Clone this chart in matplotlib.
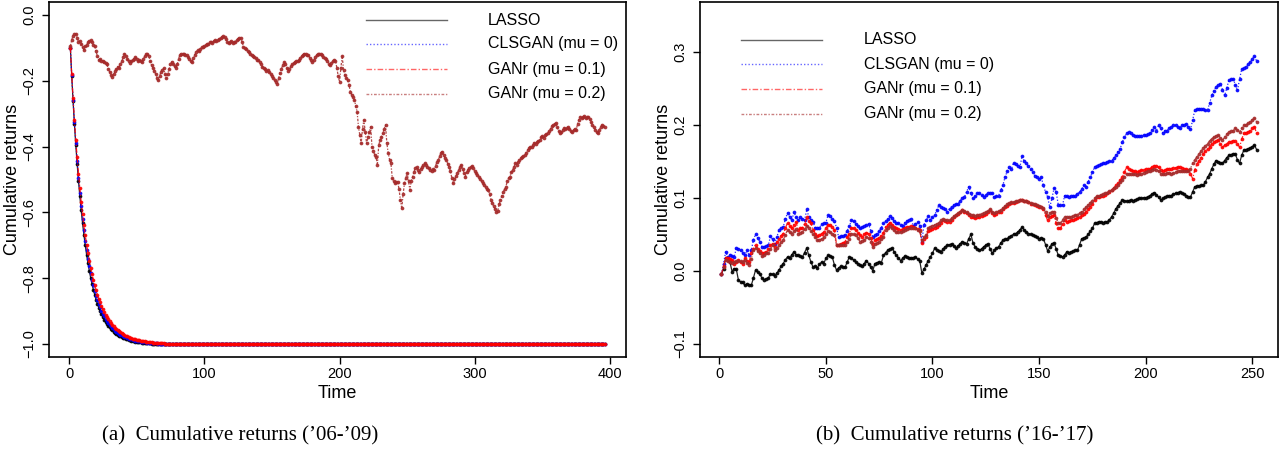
import matplotlib
matplotlib.use("Agg")
import matplotlib.pyplot as plt
from matplotlib.lines import Line2D

plt.rcParams['font.family'] = ['Liberation Sans', 'DejaVu Sans']

# ---------------- data: panel (a) '06-'09 ----------------
TIME_06 = list(range(1, 397))

LASSO_06_HEAD = [-0.100, -0.185, -0.262, -0.332, -0.395, -0.452, -0.504, -0.551, -0.594, -0.633,
                 -0.668, -0.700, -0.729, -0.755, -0.778, -0.799, -0.818, -0.836, -0.851, -0.866,
                 -0.878, -0.890, -0.900, -0.910, -0.918, -0.926, -0.933, -0.939, -0.945, -0.950,
                 -0.955, -0.959, -0.963, -0.966, -0.969, -0.972, -0.975, -0.977, -0.979, -0.981,
                 -0.983, -0.985, -0.986, -0.988, -0.989, -0.990, -0.991, -0.992, -0.993, -0.993,
                 -0.994, -0.995, -0.995, -0.996, -0.996, -0.997, -0.997, -0.997, -0.998, -0.998]
CLSGAN_06_HEAD = [-0.100, -0.183, -0.258, -0.326, -0.388, -0.443, -0.494, -0.540, -0.582, -0.620,
                  -0.655, -0.686, -0.715, -0.741, -0.764, -0.785, -0.805, -0.822, -0.838, -0.853,
                  -0.866, -0.878, -0.889, -0.899, -0.908, -0.916, -0.923, -0.930, -0.936, -0.942,
                  -0.947, -0.952, -0.956, -0.960, -0.963, -0.966, -0.969, -0.972, -0.974, -0.976,
                  -0.978, -0.980, -0.982, -0.984, -0.985, -0.986, -0.988, -0.989, -0.990, -0.991,
                  -0.992, -0.992, -0.993, -0.994, -0.994, -0.995, -0.995, -0.996, -0.996, -0.997,
                  -0.997, -0.997, -0.998, -0.998, -0.998]
GANR1_06_HEAD = [-0.100, -0.180, -0.253, -0.319, -0.379, -0.433, -0.482, -0.527, -0.568, -0.605,
                 -0.639, -0.670, -0.698, -0.724, -0.747, -0.768, -0.788, -0.806, -0.822, -0.837,
                 -0.850, -0.863, -0.874, -0.885, -0.894, -0.903, -0.911, -0.918, -0.925, -0.931,
                 -0.937, -0.942, -0.947, -0.951, -0.955, -0.959, -0.962, -0.965, -0.968, -0.971,
                 -0.973, -0.975, -0.977, -0.979, -0.981, -0.982, -0.984, -0.985, -0.986, -0.987,
                 -0.988, -0.989, -0.990, -0.991, -0.992, -0.992, -0.993, -0.994, -0.994, -0.995,
                 -0.995, -0.996, -0.996, -0.996, -0.997, -0.997, -0.997, -0.998, -0.998, -0.998]
FLAT_06 = -1.0
LASSO_06 = LASSO_06_HEAD + [FLAT_06] * (len(TIME_06) - len(LASSO_06_HEAD))
CLSGAN_06 = CLSGAN_06_HEAD + [FLAT_06] * (len(TIME_06) - len(CLSGAN_06_HEAD))
GANR1_06 = GANR1_06_HEAD + [FLAT_06] * (len(TIME_06) - len(GANR1_06_HEAD))

GANR2_06 = [
    -0.095, -0.075, -0.062, -0.058, -0.056, -0.068, -0.081, -0.079, -0.088, -0.097,
    -0.106, -0.095, -0.090, -0.083, -0.078, -0.076, -0.083, -0.091, -0.095, -0.110,
    -0.125, -0.137, -0.133, -0.141, -0.138, -0.144, -0.147, -0.150, -0.163, -0.172,
    -0.181, -0.187, -0.180, -0.171, -0.165, -0.157, -0.160, -0.150, -0.141, -0.128,
    -0.117, -0.125, -0.134, -0.140, -0.147, -0.141, -0.137, -0.132, -0.128, -0.132,
    -0.138, -0.135, -0.140, -0.142, -0.133, -0.125, -0.119, -0.117, -0.125, -0.138,
    -0.152, -0.160, -0.170, -0.178, -0.190, -0.198, -0.185, -0.172, -0.166, -0.162,
    -0.180, -0.192, -0.178, -0.164, -0.150, -0.142, -0.148, -0.155, -0.162, -0.150,
    -0.133, -0.120, -0.117, -0.119, -0.118, -0.121, -0.122, -0.127, -0.133, -0.139,
    -0.142, -0.131, -0.120, -0.112, -0.106, -0.110, -0.103, -0.098, -0.096, -0.094,
    -0.091, -0.087, -0.089, -0.083, -0.081, -0.084, -0.079, -0.076, -0.078, -0.076,
    -0.072, -0.069, -0.066, -0.064, -0.067, -0.073, -0.081, -0.086, -0.083, -0.079,
    -0.084, -0.082, -0.081, -0.076, -0.072, -0.069, -0.068, -0.083, -0.097, -0.101,
    -0.104, -0.108, -0.111, -0.117, -0.122, -0.125, -0.127, -0.131, -0.135, -0.137,
    -0.143, -0.150, -0.157, -0.162, -0.165, -0.170, -0.168, -0.174, -0.180, -0.185,
    -0.192, -0.198, -0.203, -0.208, -0.190, -0.177, -0.165, -0.152, -0.142, -0.150,
    -0.160, -0.170, -0.165, -0.155, -0.150, -0.147, -0.142, -0.138, -0.140, -0.137,
    -0.130, -0.124, -0.120, -0.117, -0.119, -0.121, -0.122, -0.130, -0.137, -0.142,
    -0.135, -0.128, -0.122, -0.119, -0.117, -0.117, -0.121, -0.126, -0.130, -0.132,
    -0.140, -0.148, -0.152, -0.146, -0.140, -0.137, -0.138, -0.160, -0.185, -0.203,
    -0.160, -0.125, -0.168, -0.182, -0.190, -0.198, -0.212, -0.233, -0.242, -0.250,
    -0.258, -0.276, -0.294, -0.340, -0.365, -0.390, -0.345, -0.319, -0.355, -0.390,
    -0.372, -0.355, -0.340, -0.400, -0.412, -0.425, -0.431, -0.456, -0.395, -0.380,
    -0.370, -0.360, -0.345, -0.334, -0.390, -0.420, -0.440, -0.451, -0.496, -0.505,
    -0.512, -0.509, -0.507, -0.530, -0.562, -0.588, -0.545, -0.512, -0.495, -0.481,
    -0.505, -0.532, -0.505, -0.491, -0.478, -0.465, -0.461, -0.470, -0.476, -0.468,
    -0.462, -0.455, -0.451, -0.456, -0.462, -0.466, -0.470, -0.474, -0.468, -0.471,
    -0.458, -0.447, -0.441, -0.430, -0.418, -0.415, -0.425, -0.436, -0.441, -0.452,
    -0.461, -0.475, -0.495, -0.512, -0.500, -0.490, -0.481, -0.472, -0.462, -0.456,
    -0.468, -0.480, -0.491, -0.478, -0.470, -0.466, -0.462, -0.459, -0.466, -0.475,
    -0.480, -0.486, -0.492, -0.498, -0.505, -0.512, -0.518, -0.523, -0.528, -0.532,
    -0.545, -0.562, -0.572, -0.582, -0.590, -0.598, -0.595, -0.575, -0.562, -0.550,
    -0.538, -0.530, -0.522, -0.505, -0.495, -0.491, -0.478, -0.470, -0.462, -0.450,
    -0.455, -0.446, -0.440, -0.436, -0.432, -0.430, -0.425, -0.418, -0.410, -0.405,
    -0.402, -0.400, -0.395, -0.388, -0.392, -0.385, -0.382, -0.380, -0.372, -0.368,
    -0.375, -0.366, -0.362, -0.359, -0.352, -0.345, -0.338, -0.335, -0.330, -0.329,
    -0.340, -0.352, -0.359, -0.355, -0.348, -0.342, -0.346, -0.342, -0.340, -0.345,
    -0.352, -0.355, -0.350, -0.346, -0.350, -0.330, -0.318, -0.309, -0.312, -0.310,
    -0.308, -0.312, -0.310, -0.309, -0.315, -0.325, -0.335, -0.340, -0.348, -0.355,
    -0.359, -0.350, -0.340, -0.334, -0.338, -0.340]

# ---------------- data: panel (b) '16-'17 ----------------
TIME_16 = list(range(1, 253))

LASSO_16 = [
    -0.005, 0.003, 0.017, 0.015, 0.012, -0.001, 0.003, 0.002, -0.013, -0.015,
    -0.016, -0.020, -0.018, -0.019, -0.020, -0.010, 0.001, -0.002, -0.004, -0.010,
    -0.012, -0.011, -0.010, -0.004, -0.005, -0.007, -0.003, 0.001, 0.006, 0.010,
    0.015, 0.019, 0.017, 0.022, 0.026, 0.022, 0.021, 0.020, 0.019, 0.025,
    0.031, 0.021, 0.012, 0.005, 0.006, 0.004, 0.009, 0.012, 0.010, 0.017,
    0.021, 0.020, 0.019, 0.008, 0.001, 0.004, 0.006, 0.005, 0.005, 0.012,
    0.019, 0.017, 0.015, 0.012, 0.010, 0.008, 0.006, 0.010, 0.014, 0.010,
    0.005, 0.000, 0.010, 0.011, 0.012, 0.011, 0.021, 0.025, 0.028, 0.030,
    0.031, 0.026, 0.021, 0.018, 0.014, 0.017, 0.020, 0.019, 0.018, 0.017,
    0.018, 0.019, 0.016, 0.014, -0.003, 0.002, 0.008, 0.014, 0.019, 0.024,
    0.031, 0.029, 0.027, 0.026, 0.030, 0.033, 0.035, 0.036, 0.037, 0.034,
    0.031, 0.034, 0.037, 0.040, 0.038, 0.037, 0.044, 0.050, 0.038, 0.033,
    0.030, 0.028, 0.030, 0.033, 0.035, 0.037, 0.030, 0.024, 0.028, 0.031,
    0.033, 0.038, 0.042, 0.043, 0.044, 0.046, 0.048, 0.050, 0.051, 0.053,
    0.056, 0.060, 0.056, 0.053, 0.051, 0.050, 0.049, 0.048, 0.046, 0.044,
    0.045, 0.044, 0.036, 0.027, 0.032, 0.037, 0.038, 0.030, 0.021, 0.020,
    0.019, 0.022, 0.026, 0.025, 0.026, 0.027, 0.028, 0.028, 0.036, 0.044,
    0.045, 0.046, 0.050, 0.054, 0.058, 0.065, 0.066, 0.067, 0.067, 0.066,
    0.067, 0.067, 0.070, 0.074, 0.079, 0.085, 0.089, 0.093, 0.097, 0.096,
    0.095, 0.096, 0.097, 0.096, 0.097, 0.098, 0.099, 0.099, 0.100, 0.100,
    0.101, 0.103, 0.105, 0.107, 0.104, 0.101, 0.097, 0.099, 0.101, 0.102,
    0.103, 0.103, 0.105, 0.106, 0.107, 0.108, 0.106, 0.105, 0.103, 0.101,
    0.101, 0.108, 0.115, 0.116, 0.116, 0.117, 0.117, 0.122, 0.128, 0.133,
    0.140, 0.146, 0.151, 0.149, 0.148, 0.147, 0.151, 0.155, 0.158, 0.159,
    0.160, 0.160, 0.152, 0.147, 0.158, 0.165, 0.166, 0.167, 0.168, 0.170,
    0.172, 0.166]

CLSGAN_16 = [
    -0.005, 0.010, 0.026, 0.019, 0.022, 0.020, 0.019, 0.031, 0.030, 0.028,
    0.024, 0.021, 0.028, 0.021, 0.028, 0.042, 0.050, 0.045, 0.040, 0.033,
    0.033, 0.034, 0.035, 0.047, 0.043, 0.037, 0.046, 0.056, 0.058, 0.060,
    0.071, 0.079, 0.074, 0.069, 0.080, 0.074, 0.069, 0.073, 0.071, 0.069,
    0.084, 0.074, 0.070, 0.067, 0.059, 0.059, 0.059, 0.064, 0.065, 0.066,
    0.076, 0.075, 0.071, 0.068, 0.059, 0.046, 0.047, 0.048, 0.049, 0.055,
    0.061, 0.069, 0.068, 0.064, 0.061, 0.058, 0.060, 0.061, 0.063, 0.064,
    0.055, 0.046, 0.049, 0.051, 0.055, 0.059, 0.065, 0.068, 0.071, 0.075,
    0.072, 0.068, 0.066, 0.065, 0.063, 0.061, 0.066, 0.068, 0.070, 0.071,
    0.061, 0.064, 0.067, 0.062, 0.040, 0.063, 0.069, 0.075, 0.070, 0.073,
    0.076, 0.083, 0.090, 0.088, 0.086, 0.084, 0.081, 0.085, 0.088, 0.090,
    0.091, 0.092, 0.096, 0.099, 0.101, 0.108, 0.115, 0.107, 0.099, 0.102,
    0.106, 0.106, 0.104, 0.101, 0.104, 0.106, 0.106, 0.106, 0.101, 0.102,
    0.103, 0.110, 0.117, 0.128, 0.136, 0.142, 0.139, 0.148, 0.146, 0.143,
    0.142, 0.157, 0.150, 0.147, 0.143, 0.139, 0.135, 0.130, 0.128, 0.126,
    0.128, 0.117, 0.108, 0.101, 0.087, 0.099, 0.113, 0.108, 0.090, 0.090,
    0.090, 0.103, 0.102, 0.101, 0.103, 0.103, 0.103, 0.105, 0.108, 0.112,
    0.117, 0.115, 0.122, 0.128, 0.135, 0.142, 0.144, 0.145, 0.146, 0.147,
    0.148, 0.149, 0.150, 0.151, 0.154, 0.158, 0.163, 0.167, 0.176, 0.183,
    0.188, 0.190, 0.188, 0.186, 0.185, 0.185, 0.184, 0.185, 0.186, 0.186,
    0.187, 0.188, 0.193, 0.197, 0.192, 0.199, 0.195, 0.189, 0.192, 0.192,
    0.195, 0.197, 0.199, 0.199, 0.197, 0.196, 0.199, 0.200, 0.201, 0.197,
    0.194, 0.206, 0.220, 0.221, 0.222, 0.222, 0.221, 0.220, 0.220, 0.230,
    0.240, 0.246, 0.252, 0.254, 0.256, 0.248, 0.240, 0.250, 0.261, 0.262,
    0.263, 0.255, 0.247, 0.262, 0.276, 0.278, 0.279, 0.283, 0.286, 0.290,
    0.294, 0.287]

GANR1_16 = [
    -0.005, 0.007, 0.017, 0.017, 0.016, 0.015, 0.010, 0.012, 0.015, 0.012,
    0.010, 0.017, 0.014, 0.012, 0.024, 0.030, 0.036, 0.030, 0.027, 0.024,
    0.025, 0.026, 0.030, 0.035, 0.037, 0.033, 0.039, 0.044, 0.048, 0.051,
    0.058, 0.066, 0.062, 0.058, 0.063, 0.067, 0.056, 0.058, 0.059, 0.064,
    0.073, 0.068, 0.065, 0.056, 0.051, 0.047, 0.049, 0.051, 0.053, 0.058,
    0.063, 0.063, 0.060, 0.056, 0.036, 0.036, 0.037, 0.038, 0.040, 0.046,
    0.051, 0.059, 0.058, 0.056, 0.052, 0.049, 0.046, 0.050, 0.052, 0.051,
    0.045, 0.037, 0.042, 0.043, 0.045, 0.048, 0.052, 0.060, 0.063, 0.066,
    0.063, 0.060, 0.058, 0.057, 0.056, 0.057, 0.059, 0.060, 0.060, 0.061,
    0.060, 0.059, 0.057, 0.056, 0.038, 0.044, 0.046, 0.055, 0.056, 0.057,
    0.059, 0.060, 0.063, 0.066, 0.069, 0.068, 0.067, 0.067, 0.070, 0.073,
    0.076, 0.078, 0.081, 0.083, 0.081, 0.079, 0.076, 0.074, 0.073, 0.072,
    0.073, 0.074, 0.075, 0.076, 0.078, 0.081, 0.083, 0.079, 0.076, 0.078,
    0.080, 0.081, 0.084, 0.087, 0.089, 0.092, 0.093, 0.093, 0.094, 0.096,
    0.097, 0.097, 0.096, 0.095, 0.094, 0.092, 0.091, 0.090, 0.089, 0.088,
    0.087, 0.084, 0.076, 0.069, 0.073, 0.075, 0.076, 0.065, 0.058, 0.058,
    0.064, 0.069, 0.067, 0.068, 0.069, 0.070, 0.071, 0.072, 0.074, 0.076,
    0.078, 0.081, 0.084, 0.088, 0.092, 0.097, 0.101, 0.101, 0.102, 0.103,
    0.104, 0.106, 0.108, 0.110, 0.113, 0.117, 0.120, 0.124, 0.128, 0.135,
    0.142, 0.140, 0.138, 0.137, 0.136, 0.135, 0.136, 0.138, 0.138, 0.139,
    0.139, 0.140, 0.142, 0.144, 0.143, 0.142, 0.138, 0.137, 0.138, 0.139,
    0.140, 0.140, 0.141, 0.141, 0.142, 0.142, 0.141, 0.140, 0.139, 0.138,
    0.133, 0.126, 0.138, 0.146, 0.151, 0.155, 0.160, 0.164, 0.167, 0.170,
    0.174, 0.176, 0.178, 0.179, 0.174, 0.169, 0.172, 0.174, 0.176, 0.177,
    0.178, 0.178, 0.174, 0.169, 0.180, 0.188, 0.189, 0.190, 0.192, 0.195,
    0.197, 0.188]

GANR2_16 = [
    -0.005, 0.005, 0.015, 0.014, 0.012, 0.011, 0.012, 0.013, 0.014, 0.013,
    0.012, 0.015, 0.011, 0.008, 0.016, 0.028, 0.031, 0.027, 0.024, 0.020,
    0.022, 0.024, 0.024, 0.030, 0.035, 0.028, 0.031, 0.035, 0.039, 0.042,
    0.049, 0.056, 0.053, 0.050, 0.054, 0.057, 0.051, 0.052, 0.053, 0.057,
    0.062, 0.058, 0.055, 0.050, 0.046, 0.042, 0.042, 0.044, 0.046, 0.050,
    0.054, 0.053, 0.051, 0.049, 0.035, 0.035, 0.035, 0.036, 0.036, 0.040,
    0.044, 0.051, 0.050, 0.049, 0.045, 0.040, 0.041, 0.042, 0.046, 0.045,
    0.040, 0.032, 0.037, 0.038, 0.040, 0.043, 0.046, 0.056, 0.058, 0.061,
    0.058, 0.056, 0.053, 0.053, 0.053, 0.054, 0.056, 0.057, 0.058, 0.059,
    0.059, 0.058, 0.056, 0.055, 0.042, 0.046, 0.049, 0.058, 0.060, 0.061,
    0.063, 0.064, 0.066, 0.069, 0.071, 0.070, 0.069, 0.069, 0.072, 0.075,
    0.077, 0.079, 0.081, 0.083, 0.082, 0.080, 0.078, 0.077, 0.076, 0.075,
    0.076, 0.077, 0.078, 0.079, 0.080, 0.082, 0.084, 0.081, 0.079, 0.080,
    0.082, 0.083, 0.086, 0.089, 0.091, 0.093, 0.094, 0.094, 0.095, 0.096,
    0.097, 0.097, 0.096, 0.095, 0.094, 0.093, 0.092, 0.091, 0.090, 0.089,
    0.088, 0.086, 0.080, 0.075, 0.079, 0.080, 0.081, 0.072, 0.066, 0.065,
    0.070, 0.074, 0.073, 0.073, 0.074, 0.075, 0.076, 0.077, 0.079, 0.081,
    0.084, 0.087, 0.090, 0.093, 0.096, 0.099, 0.102, 0.103, 0.104, 0.105,
    0.106, 0.107, 0.109, 0.111, 0.113, 0.115, 0.118, 0.121, 0.124, 0.129,
    0.133, 0.133, 0.133, 0.132, 0.132, 0.131, 0.132, 0.133, 0.134, 0.135,
    0.136, 0.137, 0.138, 0.139, 0.138, 0.137, 0.133, 0.132, 0.133, 0.134,
    0.134, 0.133, 0.134, 0.135, 0.136, 0.137, 0.137, 0.136, 0.136, 0.137,
    0.140, 0.147, 0.152, 0.156, 0.160, 0.164, 0.168, 0.171, 0.174, 0.178,
    0.181, 0.183, 0.185, 0.186, 0.182, 0.179, 0.183, 0.187, 0.190, 0.191,
    0.192, 0.195, 0.193, 0.190, 0.195, 0.199, 0.200, 0.202, 0.204, 0.207,
    0.209, 0.204]

SERIES_NAMES = ["LASSO", "CLSGAN (mu = 0)", "GANr (mu = 0.1)", "GANr (mu = 0.2)"]

XTICKS_06 = [0, 100, 200, 300, 400]
YTICKS_06 = [-1.0, -0.8, -0.6, -0.4, -0.2, 0.0]
YTICKLABELS_06 = ["\u22121.0", "\u22120.8", "\u22120.6", "\u22120.4", "\u22120.2", "0.0"]
XTICKS_16 = [0, 50, 100, 150, 200, 250]
YTICKS_16 = [-0.1, 0.0, 0.1, 0.2, 0.3]
YTICKLABELS_16 = ["\u22120.1", "0.0", "0.1", "0.2", "0.3"]

CAPTIONS = ["(a)  Cumulative returns (\u201906-\u201909)", "(b)  Cumulative returns (\u201916-\u201917)"]

# ---------------- styles ----------------
COLORS = ["black", "#0000FF", "#FF0000", "#A52A2A"]
LSTYLES = ["-", (0, (1, 1.5)), (0, (4, 1.5, 1, 1.5)), (0, (2, 1.2, 1, 1.2))]
MARKERS = [".", ".", ".", "."]

W, H = 1279, 455
fig = plt.figure(figsize=(W / 100, H / 100), dpi=100)


def px_axes(x0, x1, y0, y1):
    return fig.add_axes([x0 / W, 1 - y1 / H, (x1 - x0) / W, (y1 - y0) / H])


ax1 = px_axes(49, 626, 2, 357)
ax2 = px_axes(700, 1278, 2, 357)


def draw_panel(ax, t, series, xticks, yticks, yticklabels, xlim, ylim,
               leg_x0, leg_x1, leg_tx, leg_ys):
    for i, s in enumerate(series):
        ax.plot(t, s, color=COLORS[i], linestyle=LSTYLES[i], linewidth=0.9,
                marker=MARKERS[i], markersize=3.4, alpha=0.85)
    ax.set_xlim(*xlim)
    ax.set_ylim(*ylim)
    ax.set_xticks(xticks)
    ax.set_xticklabels([str(v) for v in xticks], fontsize=10.5)
    ax.set_yticks(yticks)
    ax.set_yticklabels(yticklabels, rotation=90, va="center", fontsize=10.5)
    ax.tick_params(direction="out", length=5, width=1.0, pad=2, color="black")
    ax.tick_params(axis="y", pad=4)
    for sp in ax.spines.values():
        sp.set_linewidth(1.2)
        sp.set_color("black")
    ax.set_xlabel("Time", fontsize=13, labelpad=3)
    ax.set_ylabel("Cumulative returns", fontsize=13, labelpad=1)
    for i, name in enumerate(SERIES_NAMES):
        ax.add_line(Line2D([leg_x0, leg_x1], [leg_ys[i], leg_ys[i]], transform=ax.transAxes,
                           color=COLORS[i], linestyle=LSTYLES[i], linewidth=1.0, alpha=0.6))
        ax.text(leg_tx, leg_ys[i], name, transform=ax.transAxes, fontsize=11.5,
                va="center", ha="left")


draw_panel(ax1, TIME_06, [LASSO_06, CLSGAN_06, GANR1_06, GANR2_06],
           XTICKS_06, YTICKS_06, YTICKLABELS_06, (-14.8, 411.8), (-1.04, 0.04),
           0.549, 0.690, 0.761, [0.949, 0.882, 0.811, 0.741])
draw_panel(ax2, TIME_16, [LASSO_16, CLSGAN_16, GANR1_16, GANR2_16],
           XTICKS_16, YTICKS_16, YTICKLABELS_16, (-9.04, 262.04), (-0.118, 0.368),
           0.071, 0.211, 0.284, [0.893, 0.825, 0.755, 0.685])

fig.text(240 / W, 1 - 436 / H, CAPTIONS[0], ha="center", va="center",
         fontsize=15, family=["Liberation Serif", "DejaVu Serif"])
fig.text(955 / W, 1 - 436 / H, CAPTIONS[1], ha="center", va="center",
         fontsize=15, family=["Liberation Serif", "DejaVu Serif"])

fig.savefig("out.png", dpi=100)
